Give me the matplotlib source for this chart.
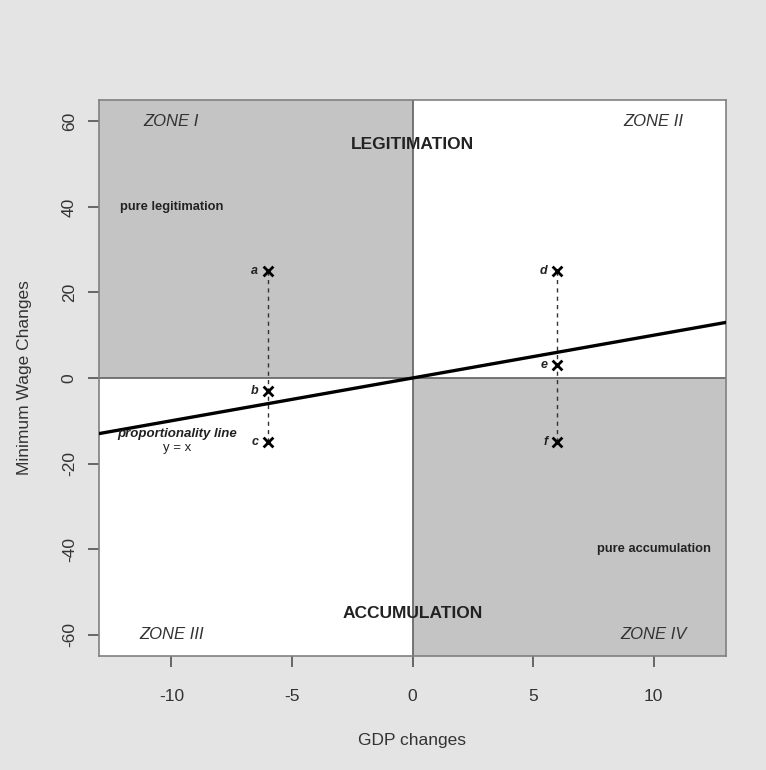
import numpy as np
import matplotlib
matplotlib.use("Agg")
from matplotlib import pyplot as plt

plt.rcParams['font.family'] = ['Liberation Sans', 'DejaVu Sans']

# Data
xlim = (-13, 13)
ylim = (-65, 65)
point_labels = ['a', 'b', 'c', 'd', 'e', 'f']
point_x = [-6, -6, -6, 6, 6, 6]
point_y = [25, -3, -15, 25, 3, -15]
line_x = [-13, 13]
line_y = [-13, 13]
zone_names = ['ZONE I', 'ZONE II', 'ZONE III', 'ZONE IV']
zone_x = [-10, 10, -10, 10]
zone_y = [60, 60, -60, -60]
xticks = [-10, -5, 0, 5, 10]
yticks = [-60, -40, -20, 0, 20, 40, 60]

fig = plt.figure(figsize=(7.66, 7.70), dpi=100, facecolor='#e4e4e4')
ax = fig.add_axes([99 / 766, 1 - 656 / 770, 627 / 766, 556 / 770])
ax.set_facecolor('white')
ax.set_xlim(*xlim)
ax.set_ylim(*ylim)

# shaded quadrants
shade = '#c4c4c4'
ax.fill_between([xlim[0], 0], 0, ylim[1], color=shade, lw=0, zorder=0)
ax.fill_between([0, xlim[1]], ylim[0], 0, color=shade, lw=0, zorder=0)

# axes through origin
ax.axhline(0, color='#6a6a6a', lw=1.3, zorder=1)
ax.axvline(0, color='#6a6a6a', lw=1.3, zorder=1)

# proportionality line
ax.plot(line_x, line_y, color='black', lw=2.4, zorder=3)

# dashed connectors
for px in sorted(set(point_x)):
    ys = [y for x, y in zip(point_x, point_y) if x == px]
    ax.plot([px, px], [min(ys), max(ys)], color='#333333', lw=1, ls=(0, (3, 3)), zorder=2)

ax.scatter(point_x, point_y, marker='x', s=50, color='black', linewidths=2.0, zorder=4)
for lab, x, y in zip(point_labels, point_x, point_y):
    ax.text(x - 0.4, y, lab, ha='right', va='center', fontsize=9,
            fontstyle='italic', fontweight='bold', color='#222222')

for name, x, y in zip(zone_names, zone_x, zone_y):
    ax.text(x, y, name, ha='center', va='center', fontsize=12,
            fontstyle='italic', color='#333333')

ax.text(0, 54.5, 'LEGITIMATION', ha='center', va='center', fontsize=12.5,
        fontweight='bold', color='#222222')
ax.text(0, -55, 'ACCUMULATION', ha='center', va='center', fontsize=12.5,
        fontweight='bold', color='#222222')
ax.text(-10, 40, 'pure legitimation', ha='center', va='center', fontsize=9.3,
        fontweight='bold', color='#222222')
ax.text(10, -40, 'pure accumulation', ha='center', va='center', fontsize=9.3,
        fontweight='bold', color='#222222')
ax.text(-9.75, -13, 'proportionality line', ha='center', va='center', fontsize=9.5,
        fontweight='bold', fontstyle='italic', color='#222222')
ax.text(-9.75, -16.3, 'y = x', ha='center', va='center', fontsize=9.5, color='#222222')

for sp in ax.spines.values():
    sp.set_color('#808080')
    sp.set_linewidth(1.2)

ax.set_xticks(xticks)
ax.set_yticks(yticks)
ax.set_xticklabels([str(t) for t in xticks])
ax.set_yticklabels([str(t) for t in yticks], rotation=90, va='center')
ax.tick_params(axis='both', direction='out', length=8, width=1.1, color='#444444',
               labelsize=12.5, labelcolor='#333333')
ax.tick_params(axis='x', pad=16)
ax.tick_params(axis='y', pad=8)

fig.text(412 / 766, 1 - 740 / 770, 'GDP changes', ha='center', va='center',
         fontsize=12.5, color='#333333')
fig.text(25 / 766, 1 - 378 / 770, 'Minimum Wage Changes', ha='center', va='center',
         rotation=90, fontsize=12.5, color='#333333')

fig.savefig('out.png', dpi=100, facecolor=fig.get_facecolor())
